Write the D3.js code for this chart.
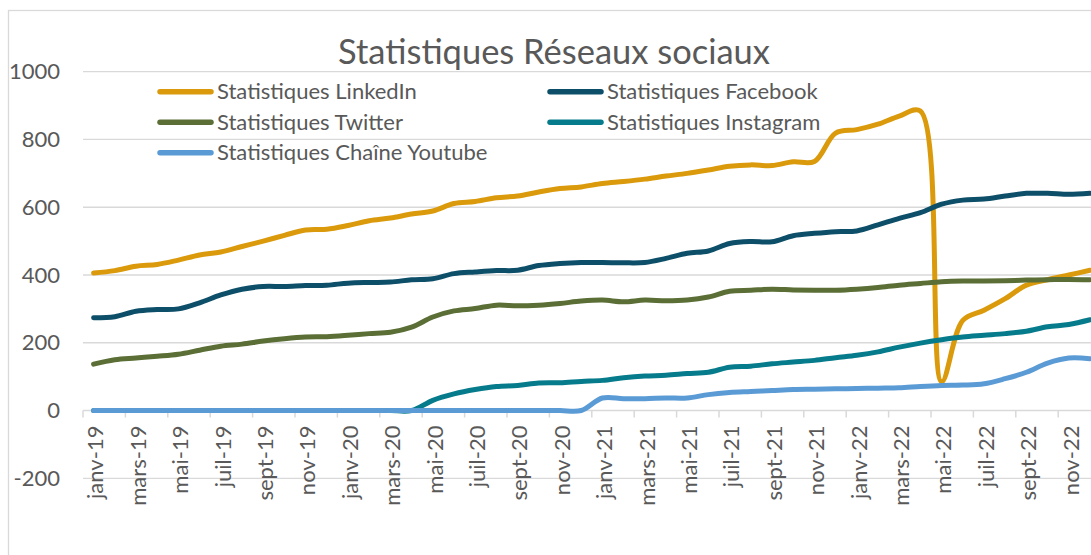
<!DOCTYPE html>
<html>
<head>
<meta charset="utf-8">
<script src="https://cdn.jsdelivr.net/npm/d3@7"></script>
<style>
  body { margin: 0; background: #fff; }
  svg { display: block; }
  text { font-family: Lato, 'Noto Sans', sans-serif; fill: #595959; }
</style>
</head>
<body>
<svg></svg>
<script>
// categories
const monthNames = ['janv', 'févr', 'mars', 'avr', 'mai', 'juin', 'juil', 'août', 'sept', 'oct', 'nov', 'déc']
const years = ['19', '20', '21', '22']
const months = years.flatMap(y => monthNames.map(m => m + '-' + y))

// series values, janv-19 .. déc-22
const linkedin = [
  406, 413, 426, 431, 444, 459, 468, 484, 500, 517, 533, 535,
  546, 560, 568, 580, 589, 611, 617, 628, 633, 645, 655, 660,
  670, 676, 683, 692, 700, 710, 721, 725, 723, 734, 735, 819,
  829, 845, 869, 884, 85, 266, 296, 330, 370, 386, 400, 414
]
const facebook = [
  274, 277, 293, 298, 300, 318, 341, 358, 366, 366, 369, 370,
  376, 378, 379, 386, 389, 404, 409, 413, 414, 428, 434, 437,
  437, 436, 437, 449, 464, 471, 493, 499, 498, 516, 523, 528,
  530, 548, 567, 584, 609, 621, 624, 633, 641, 641, 638, 641
]
const twitter = [
  137, 150, 155, 160, 166, 178, 190, 196, 205, 212, 217, 218,
  222, 227, 231, 246, 276, 294, 301, 311, 309, 311, 316, 323,
  326, 321, 326, 324, 326, 335, 352, 355, 358, 356, 355, 355,
  358, 363, 370, 375, 380, 382, 382, 383, 385, 386, 387, 386
]
const instagram = [
  0, 0, 0, 0, 0, 0, 0, 0, 0, 0, 0, 0,
  0, 0, 0, 0, 30, 49, 62, 71, 74, 81, 82, 86,
  89, 97, 102, 104, 109, 113, 128, 131, 138, 143, 148, 156,
  163, 173, 187, 199, 209, 217, 222, 227, 234, 247, 254, 268
]
const youtube = [
  0, 0, 0, 0, 0, 0, 0, 0, 0, 0, 0, 0,
  0, 0, 0, 0, 0, 0, 0, 0, 0, 0, 0, 0,
  37, 35, 35, 37, 37, 47, 53, 56, 59, 62, 63, 64,
  65, 66, 67, 71, 74, 75, 79, 94, 113, 140, 155, 153
]

const seriesNames = ['Statistiques LinkedIn', 'Statistiques Facebook', 'Statistiques Twitter',
  'Statistiques Instagram', 'Statistiques Chaîne Youtube']
const seriesValues = [linkedin, facebook, twitter, instagram, youtube]
const seriesColors = ['#DA9A0B', '#0D4E69', '#5A6E35', '#067B8B', '#5B9BD5']

const yTicks = [-200, 0, 200, 400, 600, 800, 1000]
const title = 'Statistiques Réseaux sociaux'

const width = 1091
const height = 555
const plot = {left: 83, right: 1100.6, top: 71.7, bottom: 478.3}

const svg = d3.select('svg')
  .attr('width', width)
  .attr('height', height)

// outer chart frame (runs past the right/bottom edge)
svg.append('rect')
  .attr('x', 8.5)
  .attr('y', 10.5)
  .attr('width', 1200)
  .attr('height', 700)
  .attr('fill', 'none')
  .attr('stroke', '#d9d9d9')
  .attr('stroke-width', 1.3)

const x = d3.scaleBand().domain(months).range([plot.left, plot.right])
const xc = m => x(m) + x.bandwidth() / 2
const y = d3.scaleLinear().domain([-200, 1000]).range([plot.bottom, plot.top])

// fit a text to a target width, return font size
function fitSize (str, target, guess) {
  const t = svg.append('text').attr('font-size', guess).text(str)
  const w = t.node().getComputedTextLength()
  t.remove()
  return guess * target / w
}
const labelSize = fitSize('Statistiques LinkedIn', 200, 22)
const titleSize = fitSize(title, 432, 34)

// gridlines
const grid = svg.append('g')
grid.selectAll('line')
  .data(yTicks.filter(d => d !== 0))
  .join('line')
  .attr('x1', plot.left)
  .attr('x2', plot.right)
  .attr('y1', d => y(d))
  .attr('y2', d => y(d))
  .attr('stroke', '#d9d9d9')
  .attr('stroke-width', 1.3)

// y labels
svg.append('g').selectAll('text')
  .data(yTicks)
  .join('text')
  .attr('x', 60)
  .attr('y', d => y(d))
  .attr('dy', '0.35em')
  .attr('text-anchor', 'end')
  .attr('font-size', labelSize)
  .text(d => d)

// x axis line + ticks
svg.append('line')
  .attr('x1', plot.left)
  .attr('x2', plot.right)
  .attr('y1', y(0))
  .attr('y2', y(0))
  .attr('stroke', '#d9d9d9')
  .attr('stroke-width', 1.5)

const labelMonths = months.filter((m, i) => i % 2 === 0)
svg.append('g').selectAll('line')
  .data(labelMonths)
  .join('line')
  .attr('x1', d => x(d))
  .attr('x2', d => x(d))
  .attr('y1', y(0))
  .attr('y2', y(0) + 7)
  .attr('stroke', '#d9d9d9')
  .attr('stroke-width', 1.5)

svg.append('g').selectAll('text')
  .data(labelMonths)
  .join('text')
  .attr('transform', d => 'translate(' + (xc(d) + 2) + ',' + (y(0) + 15) + ') rotate(-90)')
  .attr('dy', '0.35em')
  .attr('text-anchor', 'end')
  .attr('font-size', labelSize)
  .text(d => d)

// series lines
const line = d3.line()
  .x((d, i) => xc(months[i]))
  .y(d => y(d))
  .curve(d3.curveCatmullRom.alpha(0.5))

svg.append('g').selectAll('path')
  .data(seriesValues)
  .join('path')
  .attr('d', d => line(d))
  .attr('fill', 'none')
  .attr('stroke', (d, i) => seriesColors[i])
  .attr('stroke-width', 5)
  .attr('stroke-linecap', 'round')
  .attr('stroke-linejoin', 'round')

// title
svg.append('text')
  .attr('x', 554)
  .attr('y', 64)
  .attr('text-anchor', 'middle')
  .attr('font-size', titleSize)
  .text(title)

// legend, two columns
const legendCols = [158, 548]
const legendRows = [91.7, 122.3, 152.7]
const legend = svg.append('g').selectAll('g')
  .data(seriesNames)
  .join('g')
  .attr('transform', (d, i) => 'translate(' + legendCols[i % 2] + ',' + legendRows[Math.floor(i / 2)] + ')')

legend.append('line')
  .attr('x1', 2)
  .attr('x2', 53)
  .attr('stroke', (d, i) => seriesColors[i])
  .attr('stroke-width', 5.5)
  .attr('stroke-linecap', 'round')

legend.append('text')
  .attr('x', 59)
  .attr('dy', '0.35em')
  .attr('font-size', labelSize)
  .text(d => d)
</script>
</body>
</html>
